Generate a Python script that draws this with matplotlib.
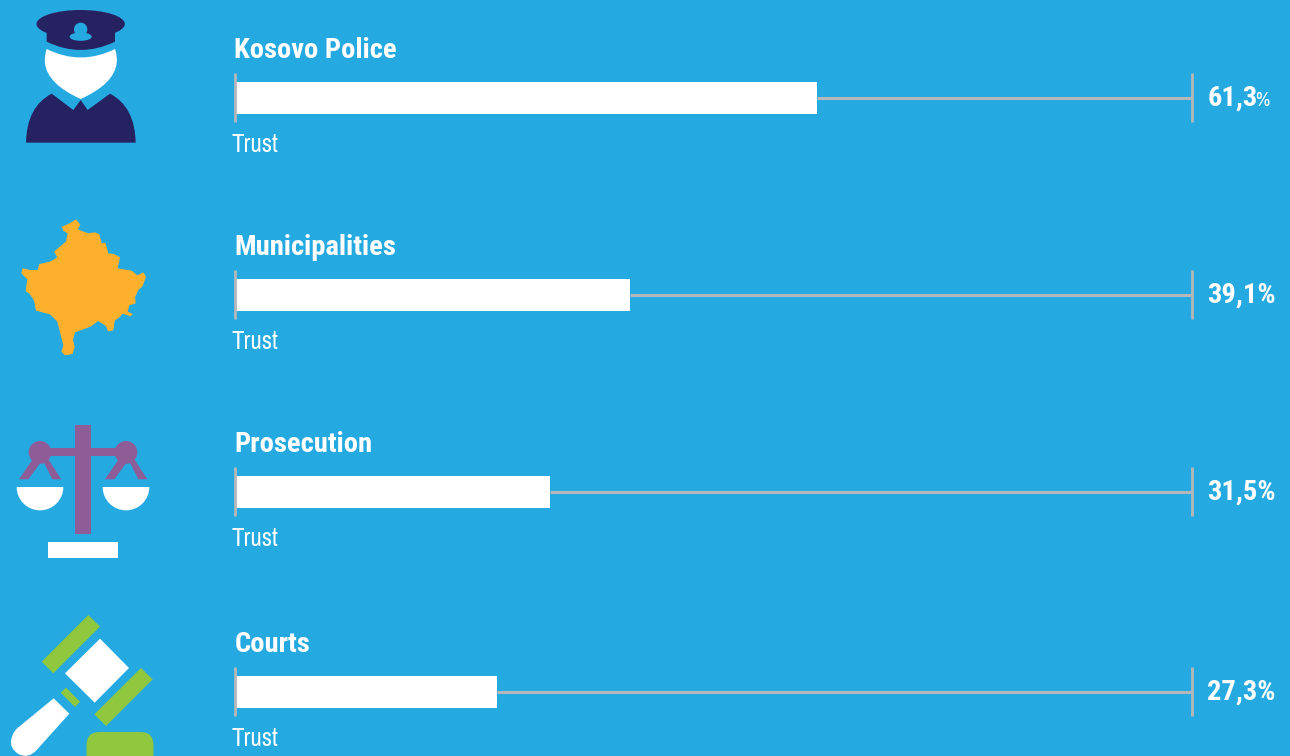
import matplotlib
matplotlib.use('Agg')
import logging
import matplotlib.pyplot as plt
from matplotlib.patches import Circle, Ellipse, FancyBboxPatch, PathPatch, Polygon, Rectangle, Wedge
from matplotlib.path import Path

logging.getLogger('matplotlib.font_manager').setLevel(logging.ERROR)

institutions = ['Kosovo Police', 'Municipalities', 'Prosecution', 'Courts']
value_labels = ['61,3', '39,1%', '31,5%', '27,3%']
bar_lengths = [60.8, 41.3, 32.9, 27.4]   # as drawn in the picture, on the 0-100 track
row_label = 'Trust'

row_centres = [98, 295, 492, 692]

BG = '#25A9E1'
GREY = '#B5B7BA'
NAVY = '#262262'
ORANGE = '#FDB02C'
PURPLE = '#8E5C96'
GREEN = '#8FC73E'
FONT = ['Archivo Narrow', 'Roboto Condensed', 'Liberation Sans Narrow', 'Liberation Sans', 'DejaVu Sans']
BOLD_FONT = ['Roboto Condensed', 'Archivo Narrow', 'Liberation Sans Narrow', 'Liberation Sans', 'DejaVu Sans']

W, H = 1290, 756
fig = plt.figure(figsize=(W / 100, H / 100), dpi=100, facecolor=BG)

# one little axes per row, x is 0-100
for yc, length in zip(row_centres, bar_lengths):
    ax = fig.add_axes([235 / W, 1 - (yc + 24) / H, 957 / W, 49 / H])
    ax.set_facecolor('none')
    ax.set_xlim(0, 100)
    ax.set_ylim(-0.5, 0.5)
    ax.set_xticks([])
    ax.set_yticks([])
    ax.spines[['top', 'bottom']].set_visible(False)
    ax.spines[['left', 'right']].set_color(GREY)
    ax.spines[['left', 'right']].set_linewidth(2)
    ax.spines['left'].set_capstyle('butt')
    ax.spines['right'].set_capstyle('butt')
    ax.plot([length, 100], [0, 0], color=GREY, lw=2.2, solid_capstyle='butt')
    ax.barh(0, length, height=32 / 49, color='white')

# overlay in pixels for the texts and icons
ov = fig.add_axes([0, 0, 1, 1])
ov.set_xlim(0, W)
ov.set_ylim(H, 0)
ov.axis('off')

for yc, name, val in zip(row_centres, institutions, value_labels):
    ov.text(234.5, yc - 40, name, color='white', family=BOLD_FONT, weight='bold', fontsize=20.5, va='baseline')
    ov.text(232, yc + 54, row_label, color='white', family=FONT, fontsize=18, va='baseline')
    ov.text(1207.5, yc + 8, val, color='white', family=BOLD_FONT, weight='bold', fontsize=20.5, va='baseline')
ov.text(1255.5, 106, '%', color='white', family=FONT, fontsize=14, va='baseline')


def zoomed(points, y0):
    return [(x / 3, y0 + y / 3) for x, y in points]


def curve_patch(points, codes, y0, color):
    return PathPatch(Path(zoomed(points, y0), codes), facecolor=color, edgecolor='none')


M, L, C3, Z = Path.MOVETO, Path.LINETO, Path.CURVE3, Path.CLOSEPOLY

# police
ov.add_patch(Ellipse((242 / 3, 72 / 3), 265 / 3, 84 / 3, color=NAVY, lw=0))
ov.add_patch(curve_patch([(140, 90), (345, 90), (345, 125), (242, 175), (140, 125), (140, 90)],
                         [M, L, L, C3, C3, Z], 0, NAVY))
ov.add_patch(Circle((242 / 3, 88 / 3), 20 / 3, color=BG, lw=0))
ov.add_patch(Ellipse((242 / 3, 110 / 3), 66 / 3, 25 / 3, color=BG, lw=0))
ov.add_patch(curve_patch([(140, 147), (242, 198), (345, 147), (353, 170), (350, 190), (342, 252), (242, 297),
                          (142, 252), (135, 190), (132, 170), (140, 147), (140, 147)],
                         [M, C3, C3, C3, C3, C3, C3, C3, C3, C3, C3, Z], 0, 'white'))
ov.add_patch(curve_patch([(155, 281), (220, 330), (242, 300), (263, 330), (330, 281), (405, 320), (407, 428),
                          (78, 428), (80, 320), (155, 281), (155, 281)],
                         [M, L, L, L, L, C3, C3, L, C3, C3, Z], 0, NAVY))

# map of Kosovo
kosovo = [(185, 80), (205, 72), (228, 58), (241, 74), (233, 88), (265, 100), (285, 97), (298, 103), (305, 130),
          (316, 128), (325, 160), (342, 162), (360, 172), (353, 205), (395, 212), (412, 226), (430, 217), (438, 230),
          (428, 258), (415, 270), (405, 292), (407, 310), (388, 316), (383, 335), (398, 342), (392, 349), (368, 341),
          (358, 352), (344, 362), (340, 391), (324, 394), (318, 378), (294, 363), (272, 380), (225, 397), (219, 420),
          (224, 440), (218, 462), (195, 466), (184, 455), (190, 437), (172, 365), (150, 343), (108, 332), (102, 302),
          (88, 280), (77, 274), (82, 238), (64, 220), (68, 205), (90, 210), (113, 210), (118, 192), (150, 185),
          (172, 172), (162, 155), (185, 135), (198, 125), (203, 100), (190, 92)]
ov.add_patch(Polygon(zoomed(kosovo, 200), closed=True, color=ORANGE, lw=0))

# scales
y0 = 410
ov.add_patch(Polygon(zoomed([(226, 45), (273, 45), (273, 372), (226, 372)], y0), color=PURPLE, lw=0))
ov.add_patch(Polygon(zoomed([(120, 115), (380, 115), (380, 138), (120, 138)], y0), color=PURPLE, lw=0))
for dx in [0, 258]:
    cx = 120 + dx
    ov.add_patch(Circle((cx / 3, y0 + 127 / 3), 34 / 3, color=PURPLE, lw=0))
    legs = [(cx - 20, 145), (cx - 63, 208), (cx - 35, 208), (cx, 160), (cx + 13, 160), (cx + 37, 208), (cx + 64, 208), (cx + 20, 140)]
    ov.add_patch(Polygon(zoomed(legs, y0), color=PURPLE, lw=0))
    ov.add_patch(Wedge((cx / 3, y0 + 231 / 3), 70 / 3, 0, 180, color='white', lw=0))
ov.add_patch(Rectangle((48, y0 + 132), 70, 16, color='white', lw=0))

# gavel
y0 = 600
for bar in ([(265, 45), (300, 80), (160, 220), (125, 185)],
            [(423, 204), (458, 238), (318, 378), (283, 343)],
            [(198, 263), (240, 305), (225, 321), (182, 278)]):
    ov.add_patch(Polygon(zoomed(bar, y0), color=GREEN, lw=0))
ov.add_patch(Polygon(zoomed([(300, 116), (387, 204), (284, 308), (195, 220)], y0), color='white', lw=0))
ov.add_patch(curve_patch([(161, 295), (208, 341), (110, 450), (85, 478), (55, 462), (22, 440), (38, 405), (42, 392), (55, 382), (161, 295)],
                         [M, L, L, C3, C3, C3, C3, C3, C3, Z], y0, 'white'))
ov.add_patch(FancyBboxPatch((86.5, 732), 67, 40, boxstyle='round,pad=0,rounding_size=13', color=GREEN, lw=0))

fig.savefig('out.png', dpi=100, facecolor=BG)
